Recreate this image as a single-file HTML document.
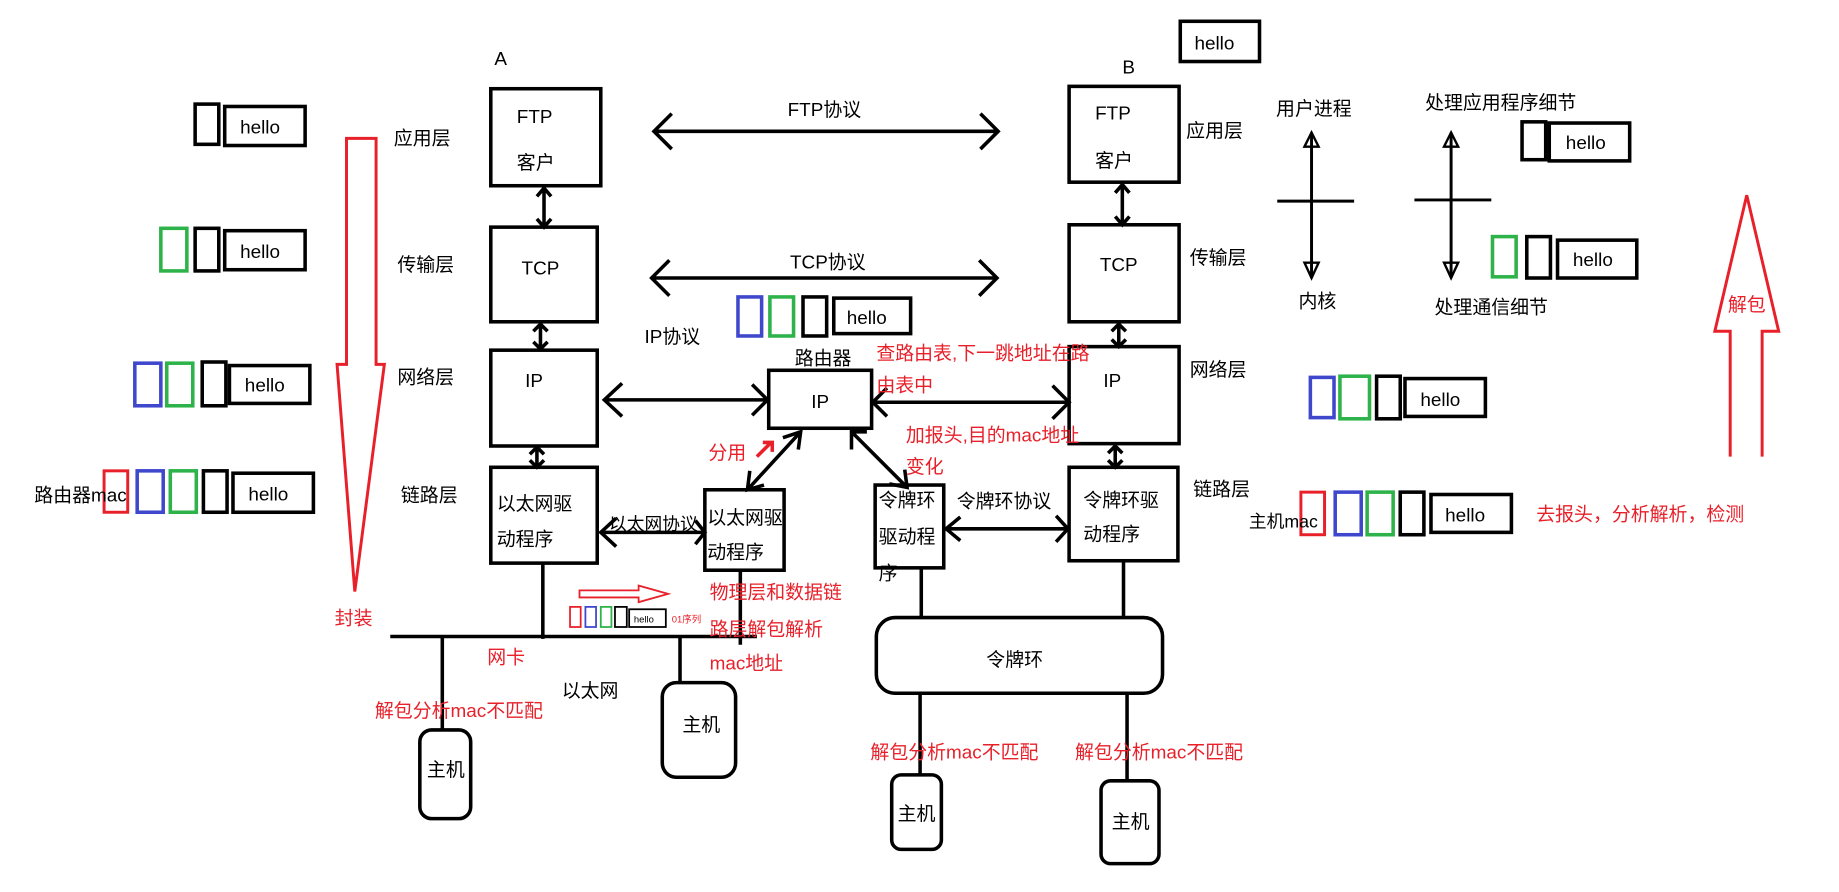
<!DOCTYPE html>
<html><head><meta charset="utf-8"><style>
html,body{margin:0;padding:0;background:#fff;}
svg{display:block}
text{font-family:"Liberation Sans","Noto Sans CJK SC",sans-serif;font-size:16px;}
.r{fill:#e8202a}
</style></head><body>
<svg width="1839" height="892" viewBox="0 0 1555 754" preserveAspectRatio="none" xmlns="http://www.w3.org/2000/svg">
<g fill="none" stroke="#000" stroke-width="3">
<rect x="415" y="75" width="93" height="82"/>
<rect x="415" y="192" width="90" height="80"/>
<rect x="415" y="296" width="90" height="81"/>
<rect x="415" y="395" width="90" height="81"/>
<rect x="904" y="73" width="93" height="81"/>
<rect x="904" y="190" width="93" height="82"/>
<rect x="904" y="293" width="93" height="82"/>
<rect x="904" y="395" width="92" height="79"/>
<rect x="650" y="313" width="87" height="49"/>
<rect x="596" y="414" width="67" height="68"/>
<rect x="740" y="410" width="58" height="70"/>
<rect x="741" y="522" width="242" height="64" rx="16"/>
<rect x="355" y="617" width="43" height="75" rx="10"/>
<rect x="560" y="577" width="62" height="80" rx="12"/>
<rect x="754" y="655" width="42" height="63" rx="8"/>
<rect x="931" y="660" width="49" height="70" rx="8"/>
<rect x="998" y="18" width="67" height="34"/>
<path d="M460 160V191M454 166l6-7 6 7M454 185l6 7 6-7"/>
<path d="M457 275V295M451 280l6-6 6 6M451 289l6 6 6-6"/>
<path d="M454 379V394M448 384l6-6 6 6M448 389l6 6 6-6"/>
<path d="M949 157V189M943 163l6-7 6 7M943 183l6 7 6-7"/>
<path d="M946 275V292M940 280l6-6 6 6M940 287l6 6 6-6"/>
<path d="M943 378V394M937 383l6-6 6 6M937 389l6 6 6-6"/>
<path d="M553 111H844M568 96l-15 15 15 15M829 96l15 15-15 15"/>
<path d="M551 235H843M566 220l-15 15 15 15M828 220l15 15-15 15"/>
<path d="M511 338H649M526 324l-15 14 15 14M636 325l13 13-13 13"/>
<path d="M738 340H904M750 328l-12 12 12 12M890 326l14 14-14 14"/>
<path d="M508 450H596M521 438l-13 12 13 12M588 440l8 10-8 10"/>
<path d="M800 447H903M812 437l-12 10 12 10M893 436l10 11-10 11"/>
<path d="M677 365L632 414M662 370l15-5-2 15M634 398l-2 16 14-4"/>
<path d="M720 365L767 412M720 380V365h13M752 409l15 3-2-15"/>
<path d="M330 538H640M459 476V540M626 482V545M374 538V617M575 538V577"/>
<path d="M779 480V522M950 474V522M778 586V655M953 586V660"/>
<path d="M1109 112V235M1080 170H1145M1227 112V235M1196 169H1261" stroke-width="2.5"/>
<path d="M1103 124l6-12 6 12zM1103 222l6 13 6-13zM1221 124l6-12 6 12zM1221 222l6 13 6-13z" stroke-width="2"/>
<rect x="165" y="88" width="20" height="34"/><rect x="190" y="90" width="68" height="33"/>
<rect x="165" y="193" width="20" height="36"/><rect x="190" y="195" width="68" height="33"/>
<rect x="171" y="306" width="20" height="37"/><rect x="194" y="309" width="68" height="32"/>
<rect x="172" y="398" width="20" height="35"/><rect x="197" y="400" width="68" height="33"/>
<rect x="679" y="251" width="20" height="33"/><rect x="705" y="252" width="65" height="30"/>
<rect x="1287" y="103" width="20" height="32"/><rect x="1310" y="104" width="68" height="32"/>
<rect x="1291" y="200" width="20" height="35"/><rect x="1317" y="203" width="67" height="32"/>
<rect x="1164" y="318" width="20" height="36"/><rect x="1188" y="320" width="68" height="32"/>
<rect x="1184" y="416" width="20" height="36"/><rect x="1210" y="418" width="68" height="32"/>
<rect x="520" y="513" width="10" height="17" stroke-width="1.5"/><rect x="532" y="515" width="31" height="15" stroke-width="1.5"/>
</g>
<g fill="none" stroke="#2db34a" stroke-width="3">
<rect x="136" y="193" width="22" height="36"/><rect x="141" y="307" width="22" height="36"/><rect x="144" y="398" width="22" height="35"/>
<rect x="651" y="251" width="20" height="33"/><rect x="1262" y="200" width="20" height="34"/><rect x="1133" y="318" width="25" height="36"/><rect x="1156" y="416" width="22" height="36"/>
<rect x="508" y="513" width="9" height="17" stroke-width="1.5"/>
</g>
<g fill="none" stroke="#3f48cc" stroke-width="3">
<rect x="114" y="307" width="22" height="36"/><rect x="116" y="398" width="22" height="35"/>
<rect x="624" y="251" width="20" height="33"/><rect x="1108" y="319" width="20" height="34"/><rect x="1129" y="416" width="22" height="36"/>
<rect x="495" y="513" width="9" height="17" stroke-width="1.5"/>
</g>
<g fill="none" stroke="#e8202a" stroke-width="2.5">
<rect x="88" y="398" width="20" height="35"/><rect x="1100" y="416" width="20" height="36"/>
<rect x="482" y="513" width="9" height="17" stroke-width="1.5"/>
<path d="M293 117H318V308H325L300 500L285 308H293Z"/>
<path d="M1463 386V280H1450L1477 165L1504 280H1490V386"/>
<path d="M490 499H540V495L565 502L540 509V505H490Z" stroke-width="1.5"/>
<path d="M640 386L652 374M645 374H653V382" stroke-width="3"/>
</g>
<text x="418" y="55">A</text><text x="949" y="62">B</text>
<text x="1010" y="42">hello</text>
<text x="437" y="104">FTP</text><text x="437" y="143">客户</text>
<text x="441" y="232">TCP</text><text x="444" y="327">IP</text>
<text x="420" y="431">以太网驱</text><text x="420" y="461">动程序</text>
<text x="926" y="101">FTP</text><text x="926" y="141">客户</text>
<text x="930" y="229">TCP</text><text x="933" y="327">IP</text>
<text x="916" y="428">令牌环驱</text><text x="916" y="457">动程序</text>
<text x="333" y="122">应用层</text><text x="336" y="229">传输层</text><text x="336" y="324">网络层</text><text x="339" y="424">链路层</text>
<text x="1003" y="116">应用层</text><text x="1006" y="223">传输层</text><text x="1006" y="318">网络层</text><text x="1009" y="419">链路层</text>
<text x="666" y="98">FTP协议</text><text x="668" y="227">TCP协议</text><text x="545" y="290">IP协议</text>
<text x="672" y="308">路由器</text><text x="686" y="345">IP</text>
<text x="598" y="443">以太网驱</text><text x="598" y="472">动程序</text>
<text x="743" y="428">令牌环</text><text x="743" y="459">驱动程</text><text x="743" y="490">序</text>
<text x="809" y="429">令牌环协议</text><text x="515" y="448" style="font-size:15px">以太网协议</text>
<text x="834" y="563">令牌环</text>
<text x="361" y="656">主机</text><text x="577" y="618">主机</text><text x="759" y="693">主机</text><text x="940" y="700">主机</text>
<text x="475" y="589">以太网</text>
<text x="1079" y="97">用户进程</text><text x="1098" y="260">内核</text>
<text x="1205" y="92">处理应用程序细节</text><text x="1213" y="265">处理通信细节</text>
<text x="203" y="113">hello</text><text x="203" y="218">hello</text><text x="207" y="331">hello</text><text x="210" y="423">hello</text>
<text x="716" y="274">hello</text><text x="1324" y="126">hello</text><text x="1330" y="225">hello</text><text x="1201" y="343">hello</text><text x="1222" y="441">hello</text>
<text x="29" y="424">路由器mac</text><text x="1056" y="446" style="font-size:15px">主机mac</text>
<text x="536" y="526" style="font-size:8px">hello</text>
<g class="r">
<text x="741" y="304" class="r">查路由表,下一跳地址在路</text><text x="741" y="331" class="r">由表中</text>
<text x="766" y="373" class="r">加报头,目的mac地址</text><text x="766" y="400" class="r">变化</text>
<text x="599" y="388" class="r">分用</text>
<text x="600" y="506" class="r">物理层和数据链</text><text x="600" y="537" class="r">路层解包解析</text><text x="600" y="566" class="r">mac地址</text>
<text x="568" y="526" class="r" style="font-size:8px">01序列</text>
<text x="412" y="561" class="r">网卡</text>
<text x="317" y="606" class="r">解包分析mac不匹配</text>
<text x="736" y="641" class="r">解包分析mac不匹配</text><text x="909" y="641" class="r">解包分析mac不匹配</text>
<text x="1299" y="440" class="r">去报头，分析解析，检测</text>
<text x="1461" y="263" class="r">解包</text><text x="283" y="528" class="r">封装</text>
</g>
</svg>
</body></html>
